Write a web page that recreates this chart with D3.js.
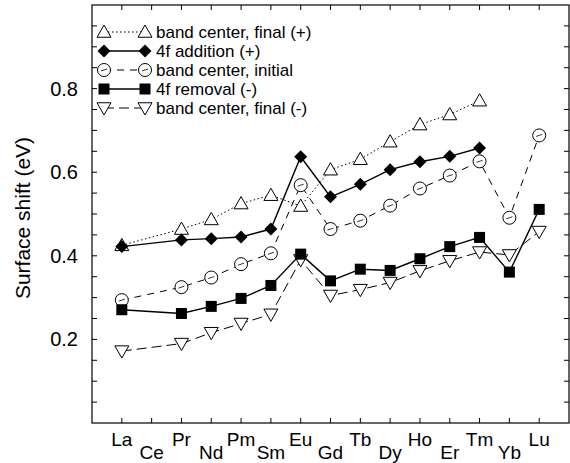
<!DOCTYPE html>
<html>
<head>
<meta charset="utf-8">
<script src="https://cdn.jsdelivr.net/npm/d3@7"></script>
<style>
  body { margin: 0; background: #fff; }
  svg { display: block; font-family: "Liberation Sans", Arial, sans-serif; }
</style>
</head>
<body>
<script>
// 元素名 (La..Lu)
const elements = ["La", "Ce", "Pr", "Nd", "Pm", "Sm", "Eu", "Gd", "Tb", "Dy", "Ho", "Er", "Tm", "Yb", "Lu"];

// 各系列の値 (null = データなし)
const bandFinalPlus  = [0.425, null, 0.464, 0.487, 0.525, 0.545, 0.519, 0.606, 0.631, 0.673, 0.714, 0.738, 0.771, null, null];
const addition4f     = [0.422, null, 0.438, 0.441, 0.445, 0.464, 0.637, 0.541, 0.571, 0.606, 0.625, 0.638, 0.658, null, null];
const bandInitial    = [0.294, null, 0.325, 0.348, 0.380, 0.406, 0.569, 0.464, 0.484, 0.520, 0.561, 0.592, 0.626, 0.491, 0.688];
const removal4f      = [0.271, null, 0.262, 0.279, 0.298, 0.329, 0.404, 0.340, 0.368, 0.365, 0.393, 0.422, 0.444, 0.361, 0.511];
const bandFinalMinus = [0.172, null, 0.190, 0.216, 0.238, 0.260, 0.390, 0.305, 0.319, 0.336, 0.364, 0.388, 0.409, 0.402, 0.458];

const yTicks = [0.2, 0.4, 0.6, 0.8];

const series = [
  {name: "band center, final (+)", values: bandFinalPlus,  symbol: "triUp",   dash: "1.5,2.5"},
  {name: "4f addition (+)",        values: addition4f,     symbol: "diamond", dash: null},
  {name: "band center, initial",   values: bandInitial,    symbol: "circle",  dash: "7,6"},
  {name: "4f removal (-)",         values: removal4f,      symbol: "square",  dash: null},
  {name: "band center, final (-)", values: bandFinalMinus, symbol: "triDown", dash: "10,5"}
];

const width = 570, height = 463;
const margin = {left: 92, top: 5, right: 1, bottom: 40};

const svg = d3.select("body").append("svg")
  .attr("width", width).attr("height", height);

// x: La = 1, 枠は 0..16
const x = d3.scaleLinear().domain([0, 16]).range([margin.left, width - margin.right]);
const y = d3.scaleLinear().domain([0, 1.0]).range([height - margin.bottom, margin.top]);

const x0 = x.range()[0], x1 = x.range()[1];
const yb = y.range()[0], yt = y.range()[1];

// 枠
svg.append("rect")
  .attr("x", x0).attr("y", yt)
  .attr("width", x1 - x0).attr("height", yb - yt)
  .attr("fill", "none").attr("stroke", "#000").attr("stroke-width", 1.2);

// 目盛り (内向き)
const tickLen = 5;
const g = svg.append("g").attr("stroke", "#000").attr("stroke-width", 1);
elements.forEach((e, i) => {
  const px = x(i + 1);
  g.append("line").attr("x1", px).attr("x2", px).attr("y1", yb).attr("y2", yb - tickLen);
  g.append("line").attr("x1", px).attr("x2", px).attr("y1", yt).attr("y2", yt + tickLen);
});
d3.range(1, 20).forEach(k => {
  const py = y(k * 0.05);
  g.append("line").attr("x1", x0).attr("x2", x0 + tickLen).attr("y1", py).attr("y2", py);
  g.append("line").attr("x1", x1).attr("x2", x1 - tickLen).attr("y1", py).attr("y2", py);
});

// y 目盛りラベル
svg.selectAll(".ylab").data(yTicks).enter().append("text")
  .attr("x", 78).attr("y", d => y(d) + 7)
  .attr("text-anchor", "end").attr("font-size", 20)
  .text(d => d.toFixed(1));

// x ラベル (2段)
svg.selectAll(".xlab").data(elements).enter().append("text")
  .attr("x", (d, i) => x(i + 1))
  .attr("y", (d, i) => i % 2 === 0 ? 446 : 459)
  .attr("text-anchor", "middle").attr("font-size", 19)
  .text(d => d);

// y 軸タイトル
svg.append("text")
  .attr("transform", "translate(30, 218) rotate(-90)")
  .attr("text-anchor", "middle").attr("font-size", 21)
  .text("Surface shift  (eV)");

// マーカー描画
function drawSymbol(sel, type, cx, cy) {
  if (type === "triUp") {
    const s = 7;
    sel.append("path").attr("d", `M${cx},${cy - s} L${cx + s},${cy + s * 0.75} L${cx - s},${cy + s * 0.75} Z`)
      .attr("fill", "#fff").attr("stroke", "#000").attr("stroke-width", 1);
  } else if (type === "triDown") {
    const s = 7;
    sel.append("path").attr("d", `M${cx},${cy + s} L${cx + s},${cy - s * 0.75} L${cx - s},${cy - s * 0.75} Z`)
      .attr("fill", "#fff").attr("stroke", "#000").attr("stroke-width", 1);
  } else if (type === "diamond") {
    const s = 6.5;
    sel.append("path").attr("d", `M${cx},${cy - s} L${cx + s},${cy} L${cx},${cy + s} L${cx - s},${cy} Z`)
      .attr("fill", "#000");
  } else if (type === "square") {
    const s = 5.5;
    sel.append("rect").attr("x", cx - s).attr("y", cy - s).attr("width", 2 * s).attr("height", 2 * s)
      .attr("fill", "#000");
  } else if (type === "circle") {
    sel.append("circle").attr("cx", cx).attr("cy", cy).attr("r", 6.5)
      .attr("fill", "#fff").attr("stroke", "#000").attr("stroke-width", 1);
    sel.append("line").attr("x1", cx - 3).attr("x2", cx + 3).attr("y1", cy + 1).attr("y2", cy - 1)
      .attr("stroke", "#000").attr("stroke-width", 0.8);
  }
}

const line = d3.line()
  .defined(d => d.v !== null)
  .x(d => x(d.i + 1))
  .y(d => y(d.v));

// 線と点
series.forEach(s => {
  const pts = s.values.map((v, i) => ({v, i})).filter(d => d.v !== null);
  svg.append("path")
    .datum(pts)
    .attr("d", line)
    .attr("fill", "none").attr("stroke", "#000")
    .attr("stroke-width", s.dash ? 1 : 1.4)
    .attr("stroke-dasharray", s.dash);
});
// 描画順: 白抜きを先、塗りを後
[0, 2, 4, 1, 3].forEach(k => {
  const s = series[k];
  const gg = svg.append("g");
  s.values.forEach((v, i) => {
    if (v !== null) drawSymbol(gg, s.symbol, x(i + 1), y(v));
  });
});

// 凡例
const legY = [32, 51, 70, 89, 108];
series.forEach((s, k) => {
  const ly = legY[k];
  const lg = svg.append("g");
  lg.append("line").attr("x1", 104).attr("x2", 145).attr("y1", ly).attr("y2", ly)
    .attr("stroke", "#000").attr("stroke-width", s.dash ? 1 : 1.4)
    .attr("stroke-dasharray", s.dash);
  drawSymbol(lg, s.symbol, 104, ly);
  drawSymbol(lg, s.symbol, 145, ly);
  lg.append("text").attr("x", 156).attr("y", ly + 6)
    .attr("font-size", 17).text(s.name);
});
</script>
</body>
</html>
